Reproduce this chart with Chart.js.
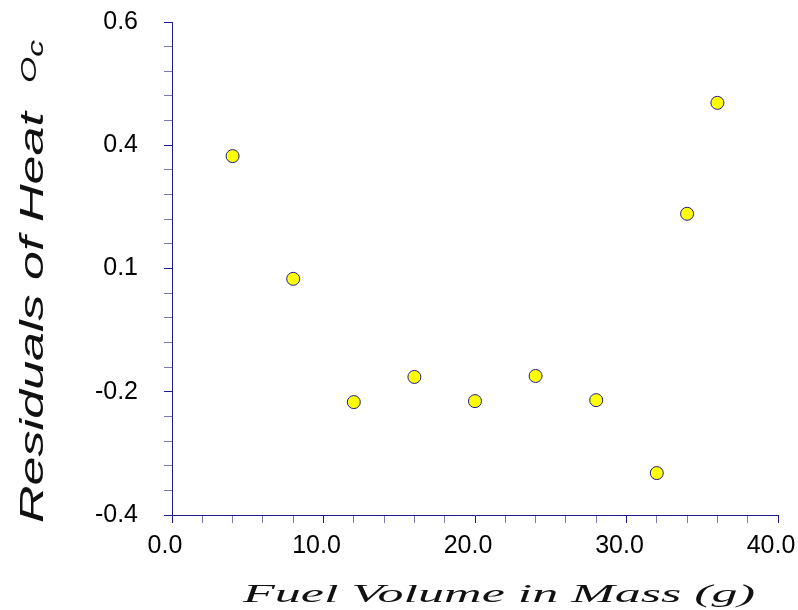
<!DOCTYPE html>
<html>
<head>
<meta charset="utf-8">
<script src="https://cdn.jsdelivr.net/npm/chart.js@4.4.0/dist/chart.umd.min.js"></script>
<style>
  body { margin: 0; background: #fff; }
  canvas { display: block; }
</style>
</head>
<body>
<canvas id="myChart" width="798" height="610"></canvas>
<script>
const ctx = document.getElementById('myChart').getContext('2d');

// fuel mass (g) and residuals
const fuelMass = [4.0, 8.0, 12.0, 16.0, 20.0, 24.0, 28.0, 32.0, 34.0, 36.0];
const residuals = [0.328, 0.079, -0.171, -0.120, -0.169, -0.118, -0.167, -0.315, 0.211, 0.436];

// tick labels as printed on the original axes
const xTickLabels = ['0.0', '10.0', '20.0', '30.0', '40.0'];
const yTickLabels = ['-0.4', '-0.2', '0.1', '0.4', '0.6'];

const xTitle = 'Fuel Volume in Mass (g)';
const yTitle = 'Residuals of Heat';

const axisColor = '#1c1c8a';
const minorColor = '#7a7ab8';

// draws the two stretched axis titles
const titlePlugin = {
  id: 'stretchedTitles',
  afterDraw(chart) {
    const c = chart.ctx;
    c.save();
    c.fillStyle = '#111';
    c.textBaseline = 'alphabetic';

    // x title
    c.font = 'italic 26px "Liberation Serif"';
    const wx = c.measureText(xTitle).width;
    c.translate(499, 602);
    c.scale(512 / wx, 1);
    c.textAlign = 'center';
    c.fillText(xTitle, 0, 0);
    c.restore();

    // y title with small raised "o" and "c"
    c.save();
    c.fillStyle = '#111';
    c.textBaseline = 'alphabetic';
    c.textAlign = 'left';
    const mainFont = 'italic 34px "Liberation Sans"';
    const smallFont = 'italic 22px "Liberation Sans"';
    c.font = mainFont;
    const w1 = c.measureText(yTitle + '  ').width;
    c.font = smallFont;
    const w2 = c.measureText('O').width;
    const w3 = c.measureText('c').width;
    const total = w1 + w2 + w3;
    c.translate(43, 523);
    c.rotate(-Math.PI / 2);
    c.scale(483 / total, 1);
    c.font = mainFont;
    c.fillText(yTitle + '  ', 0, 0);
    c.font = smallFont;
    c.fillText('O', w1, -7);
    c.fillText('c', w1 + w2, 0);
    c.restore();
  }
};

const xTicks = [];
for (let v = 0; v <= 40; v += 2) xTicks.push(v);
const yTicks = [];
for (let i = 0; i <= 20; i++) yTicks.push(-0.4 + i * 0.05);

Chart.defaults.font.family = '"Liberation Sans", Arial, sans-serif';
Chart.defaults.color = '#000';

const myChart = new Chart(ctx, {
  type: 'scatter',
  data: {
    datasets: [{
      label: 'Residuals',
      data: fuelMass.map((x, i) => ({ x: x, y: residuals[i] })),
      backgroundColor: '#ffff00',
      borderColor: '#1c1c8a',
      borderWidth: 1,
      pointRadius: 6.5,
      pointHoverRadius: 6.5
    }]
  },
  options: {
    responsive: false,
    animation: false,
    layout: { padding: { top: 22, right: 20, left: 0, bottom: 0 } },
    plugins: {
      legend: { display: false },
      tooltip: { enabled: false }
    },
    scales: {
      x: {
        type: 'linear',
        min: 0,
        max: 40,
        afterBuildTicks: scale => { scale.ticks = xTicks.map(v => ({ value: v })); },
        afterFit: scale => {
          scale.height = 95;
          scale.paddingLeft = 0;
          scale.paddingRight = 0;
        },
        border: { display: true, color: axisColor, width: 1 },
        grid: {
          drawOnChartArea: false,
          drawTicks: true,
          tickLength: 8,
          tickWidth: 1,
          tickColor: c => (c.index % 5 === 0 ? axisColor : minorColor)
        },
        ticks: {
          autoSkip: false,
          maxRotation: 0,
          minRotation: 0,
          padding: 8,
          labelOffset: -7,
          font: { size: 25 },
          callback: (val, index) => (index % 5 === 0 ? xTickLabels[index / 5] : '')
        }
      },
      y: {
        type: 'linear',
        min: -0.4,
        max: 0.6,
        afterBuildTicks: scale => { scale.ticks = yTicks.map(v => ({ value: v })); },
        afterFit: scale => {
          scale.width = 172;
          scale.paddingTop = 0;
          scale.paddingBottom = 0;
        },
        border: { display: true, color: axisColor, width: 1 },
        grid: {
          drawOnChartArea: false,
          drawTicks: true,
          tickLength: 8,
          tickWidth: 1,
          tickColor: c => (c.index % 5 === 0 ? axisColor : minorColor)
        },
        ticks: {
          autoSkip: false,
          padding: 26,
          font: { size: 25 },
          callback: (val, index) => (index % 5 === 0 ? yTickLabels[index / 5] : '')
        }
      }
    }
  },
  plugins: [titlePlugin]
});
</script>
</body>
</html>
